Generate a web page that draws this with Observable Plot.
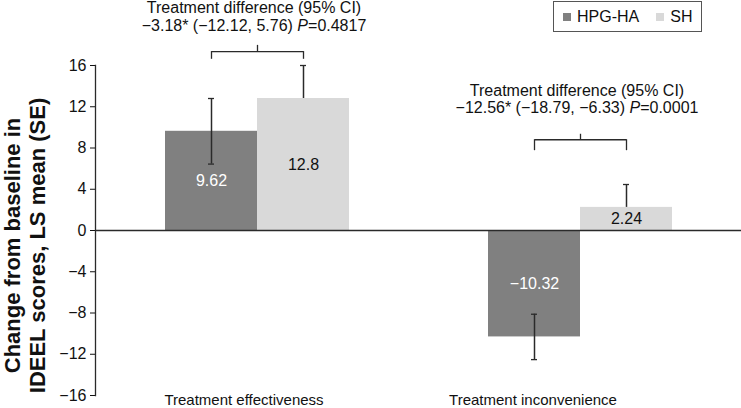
<!DOCTYPE html>
<html><head><meta charset="utf-8">
<script src="https://cdn.jsdelivr.net/npm/d3@7"></script>
<script src="https://cdn.jsdelivr.net/npm/@observablehq/plot@0.6"></script>
<style>
body{margin:0;background:#fff;}
#chart{position:relative;width:741px;height:408px;font-family:"Liberation Sans",Arial,sans-serif;}
#legend{position:absolute;left:553px;top:1px;width:147px;height:29px;border:1px solid #555;display:flex;align-items:center;font-size:16px;color:#111;padding-left:0;}
#legend .item{display:flex;align-items:center;}
#legend .sw{display:inline-block;width:8px;height:8px;margin-right:6px;}
</style></head><body><div id="chart"></div>
<script>
const categories = ["Treatment effectiveness", "Treatment inconvenience"];
const series = ["HPG-HA", "SH"];
const colors = ["#808080", "#d9d9d9"];
const hpgValues = [9.62, -10.32];
const shValues = [12.8, 2.24];
const hpgSE = [3.18, 2.2];
const shSE = [3.2, 2.22];
const yTicks = [-16, -12, -8, -4, 0, 4, 8, 12, 16];
const annotationLines = [
  ["Treatment difference (95% CI)", "\u22123.18* (\u221212.12, 5.76) P=0.4817"],
  ["Treatment difference (95% CI)", "\u221212.56* (\u221218.79, \u22126.33) P=0.0001"]
];
const annotationY = [20.75, 12.75];
const bracketY = [17.35, 8.8];
const bracketLegY = [16.6, 7.74];
const bracketTipY = [18.0, 9.38];
const yTitle = ["Change from baseline in", "IDEEL scores, LS mean (SE)"];

const rows = categories.flatMap((c, i) => [
  {category: c, series: series[0], value: hpgValues[i], se: hpgSE[i], both: true},
  {category: c, series: series[1], value: shValues[i], se: shSE[i], both: false}
]);
const fmt = v => String(v).replace("-", "\u2212");
const legs = categories.flatMap((c, i) => series.map(s => ({category: c, series: s, i})));

const ink = "#2a2a2a";
const plot = Plot.plot({
  width: 741, height: 408,
  marginLeft: 95, marginRight: 0, marginTop: 65, marginBottom: 13,
  style: {fontFamily: "'Liberation Sans', Arial, sans-serif", fontSize: "16px", color: "#111", background: "#fff"},
  fx: {domain: categories, padding: 0, axis: null},
  x: {domain: series, paddingInner: 0, paddingOuter: 0.7554, axis: null},
  y: {domain: [-16, 16], ticks: yTicks, tickSize: 5, tickPadding: 4, label: null, tickFormat: fmt},
  color: {domain: series, range: colors},
  marks: [
    Plot.barY(rows, {fx: "category", x: "series", y: "value", fill: "series"}),
    Plot.ruleY([0], {stroke: ink, strokeWidth: 1.3}),
    Plot.frame({anchor: "left", facet: "super", stroke: ink, strokeWidth: 1.3}),
    Plot.ruleX(rows, {fx: "category", x: "series", y1: d => d.both ? d.value - d.se : d.value, y2: d => d.value + d.se, stroke: ink, strokeWidth: 1.5}),
    Plot.tickY(rows, {fx: "category", x: "series", y: d => d.value + d.se, insetLeft: 43, insetRight: 43, stroke: ink, strokeWidth: 1.3}),
    Plot.tickY(rows.filter(d => d.both), {fx: "category", x: "series", y: d => d.value - d.se, insetLeft: 43, insetRight: 43, stroke: ink, strokeWidth: 1.3}),
    Plot.text(rows.filter(d => d.series === series[0]), {fx: "category", x: "series", y: d => d.value / 2, text: d => fmt(d.value), fill: "white", fontSize: 16}),
    Plot.text(rows.filter(d => d.series === series[1]), {fx: "category", x: "series", y: d => d.value / 2, text: d => fmt(d.value), fill: "#111", fontSize: 16}),
    // brackets
    Plot.link(categories, {fx: d => d, x1: () => series[0], x2: () => series[1], y1: (d, i) => bracketY[i], y2: (d, i) => bracketY[i], stroke: ink, strokeWidth: 1.3}),
    Plot.ruleX(legs, {fx: "category", x: "series", y1: d => bracketY[d.i], y2: d => bracketLegY[d.i], stroke: ink, strokeWidth: 1.3}),
    Plot.link(categories, {fx: d => d, x1: () => series[0], x2: () => series[0], y1: (d, i) => bracketY[i], y2: (d, i) => bracketTipY[i], dx: 46, stroke: ink, strokeWidth: 1.3}),
    // annotations
    Plot.text(categories, {fx: d => d, y: (d, i) => annotationY[i], text: (d, i) => annotationLines[i].join("\n"), lineHeight: 1.1, fontSize: 16, fill: "#111", dx: -3}),
    // category labels
    Plot.text([categories[0]], {fx: d => d, text: d => d, frameAnchor: "bottom", dy: 9, dx: -13, fontSize: 15, fill: "#111"}),
    Plot.text([categories[1]], {fx: d => d, text: d => d, frameAnchor: "bottom", dy: 9, dx: -47, fontSize: 15, fill: "#111"}),
    // y title
    Plot.text([yTitle.join("\n")], {facet: "super", frameAnchor: "left", textAnchor: "middle", text: d => d, rotate: -90, dx: -71, dy: 15, fontSize: 22, fontWeight: "bold", lineHeight: 1.12, fill: "#111"})
  ]
});

for (const el of plot.querySelectorAll("tspan, text")) {
  if (el.children.length) continue;
  const t = el.textContent; const k = t.indexOf("P=");
  if (k >= 0) {
    el.textContent = "";
    el.append(document.createTextNode(t.slice(0, k)));
    const it = document.createElementNS("http://www.w3.org/2000/svg", "tspan");
    it.setAttribute("font-style", "italic"); it.textContent = "P";
    el.append(it);
    el.append(document.createTextNode(t.slice(k + 1)));
  }
}

const chart = document.getElementById("chart");
chart.append(plot);
const legend = document.createElement("div");
legend.id = "legend";
series.forEach((s, i) => {
  const item = document.createElement("span");
  item.className = "item";
  item.style.marginLeft = i === 0 ? "9px" : "17px";
  const sw = document.createElement("span");
  sw.className = "sw"; sw.style.background = colors[i];
  item.append(sw, document.createTextNode(s));
  legend.append(item);
});
chart.append(legend);
</script></body></html>
